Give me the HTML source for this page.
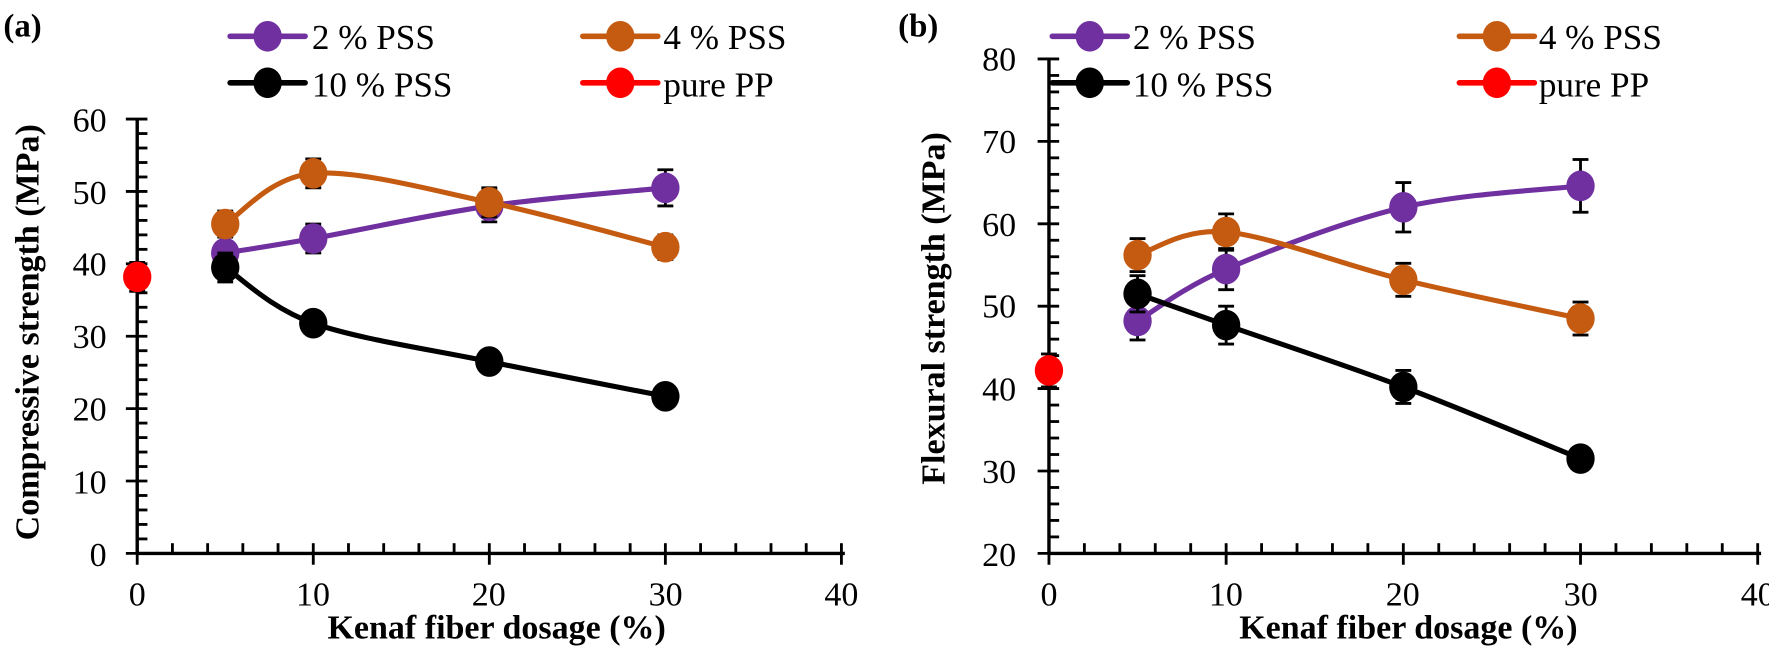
<!DOCTYPE html>
<html><head><meta charset="utf-8"><style>
html,body{margin:0;padding:0;background:#fff}
svg{display:block}
text{font-family:"Liberation Serif",serif;fill:#000}
</style></head><body>
<svg id="s" width="1769" height="653" viewBox="0 0 1769 653">
<g transform="scale(1.134)">
<g id="ax"></g>
<text x="3" y="32" font-size="29" font-weight="bold">(a)</text>
<text x="792" y="32" font-size="29" font-weight="bold">(b)</text>
<g font-size="31">
<text x="275" y="43">2 % PSS</text>
<text x="585" y="43">4 % PSS</text>
<text x="275" y="85">10 % PSS</text>
<text x="585" y="85">pure PP</text>
<text x="999" y="43">2 % PSS</text>
<text x="1357" y="43">4 % PSS</text>
<text x="999" y="85">10 % PSS</text>
<text x="1357" y="85">pure PP</text>
</g>
<g font-size="30" text-anchor="end">
<text x="94" y="499">0</text><text x="94" y="435">10</text><text x="94" y="371">20</text><text x="94" y="307">30</text><text x="94" y="243">40</text><text x="94" y="180">50</text><text x="94" y="116">60</text>
<text x="896" y="499">20</text><text x="896" y="426">30</text><text x="896" y="353">40</text><text x="896" y="280">50</text><text x="896" y="208">60</text><text x="896" y="135">70</text><text x="896" y="62">80</text>
</g>
<g font-size="30" text-anchor="middle">
<text x="121" y="534">0</text><text x="276" y="534">10</text><text x="431" y="534">20</text><text x="587" y="534">30</text><text x="742" y="534">40</text>
<text x="925" y="534">0</text><text x="1081" y="534">10</text><text x="1237" y="534">20</text><text x="1394" y="534">30</text><text x="1550" y="534">40</text>
</g>
<g font-size="30" font-weight="bold" text-anchor="middle">
<text x="438" y="563">Kenaf fiber dosage (%)</text>
<text x="1242" y="563">Kenaf fiber dosage (%)</text>
<text transform="translate(34,293) rotate(-90)">Compressive strength (MPa)</text>
<text transform="translate(833,272) rotate(-90)">Flexural strength (MPa)</text>
</g>
<g id="dat"></g>
</g>
</svg>
<script>
const NS="http://www.w3.org/2000/svg";
function el(p,t,a){const e=document.createElementNS(NS,t);for(const k in a)e.setAttribute(k,a[k]);p.appendChild(e);return e;}
const ax=document.getElementById('ax'),dat=document.getElementById('dat');
const C={p:'#7030a0',o:'#c55a11',k:'#000',r:'#ff0000'};
function panel(x0,x40,y0,ymin,ymax,ytop,series){
  const X=v=>x0+(x40-x0)*v/40, Y=v=>y0-(y0-ytop)*(v-ymin)/(ymax-ymin);
  el(ax,'line',{x1:x0,y1:y0,x2:x40+3,y2:y0,stroke:'#000','stroke-width':3});
  el(ax,'line',{x1:x0,y1:ytop,x2:x0,y2:y0,stroke:'#000','stroke-width':3});
  for(let v=0;v<=40;v+=2){const x=X(v);
    if(v%10==0) el(ax,'line',{x1:x,y1:y0-9,x2:x,y2:y0+10,stroke:'#000','stroke-width':2.5});
    else el(ax,'line',{x1:x,y1:y0-9,x2:x,y2:y0,stroke:'#000','stroke-width':2.5});}
  for(let v=ymin;v<=ymax;v+=2){const y=Y(v);
    if((v-ymin)%10==0) el(ax,'line',{x1:x0-10,y1:y,x2:x0+9,y2:y,stroke:'#000','stroke-width':2.5});
    else el(ax,'line',{x1:x0,y1:y,x2:x0+9,y2:y,stroke:'#000','stroke-width':2.5});}
  for(const s of series){
    const P=s.d.map(d=>[X(d[0]),Y(d[1])]);
    if(P.length>1){let d='M'+P[0];
      for(let i=0;i<P.length-1;i++){const p0=P[i-1]||P[i],p1=P[i],p2=P[i+1],p3=P[i+2]||P[i+1];
        const c1=[p1[0]+(p2[0]-p0[0])/6,p1[1]+(p2[1]-p0[1])/6],c2=[p2[0]-(p3[0]-p1[0])/6,p2[1]-(p3[1]-p1[1])/6];
        d+=' C'+c1+' '+c2+' '+p2;}
      el(dat,'path',{d:d,fill:'none',stroke:s.c,'stroke-width':4.5});}
    s.d.forEach((d,i)=>{const x=X(d[0]);const e=d[2]||0;
      if(e){const a=Y(d[1]+e),b=Y(d[1]-e);
        el(dat,'line',{x1:x,y1:a,x2:x,y2:b,stroke:'#000','stroke-width':2.5});
        el(dat,'line',{x1:x-7,y1:a,x2:x+7,y2:a,stroke:'#000','stroke-width':2.5});
        el(dat,'line',{x1:x-7,y1:b,x2:x+7,y2:b,stroke:'#000','stroke-width':2.5});}
    });
    P.forEach(p=>el(dat,'ellipse',{cx:p[0],cy:p[1],rx:12.5,ry:13.5,fill:s.c}));
  }
}
panel(121,742,488,0,60,105,[
 {c:C.p,d:[[5,41.5,1],[10,43.5,2],[20,48,2.2],[30,50.5,2.5]]},
 {c:C.o,d:[[5,45.5,1.8],[10,52.5,2],[20,48.5,2],[30,42.3,1.7]]},
 {c:C.k,d:[[5,39.5,2],[10,31.8,1.3],[20,26.5,0.8],[30,21.7,0.8]]},
 {c:C.r,d:[[0,38.2,2]]}]);
panel(925,1550,488,20,80,52,[
 {c:C.p,d:[[5,48.2,2.3],[10,54.5,2.5],[20,62,3],[30,64.6,3.2]]},
 {c:C.o,d:[[5,56.2,2],[10,59,2.2],[20,53.2,2],[30,48.5,2]]},
 {c:C.k,d:[[5,51.5,2.2],[10,47.7,2.3],[20,40.2,2],[30,31.5,1.3]]},
 {c:C.r,d:[[0,42.2,2]]}]);
function leg(x,y,c){el(dat,'line',{x1:x,y1:y,x2:x+66,y2:y,stroke:c,'stroke-width':5,'stroke-linecap':'round'});
 el(dat,'ellipse',{cx:x+33,cy:y,rx:12.5,ry:13.5,fill:c});}
leg(203,32,C.p);leg(514,32,C.o);leg(203,73,C.k);leg(514,73,C.r);
leg(928,32,C.p);leg(1287,32,C.o);leg(928,73,C.k);leg(1287,73,C.r);
</script>
</body></html>
